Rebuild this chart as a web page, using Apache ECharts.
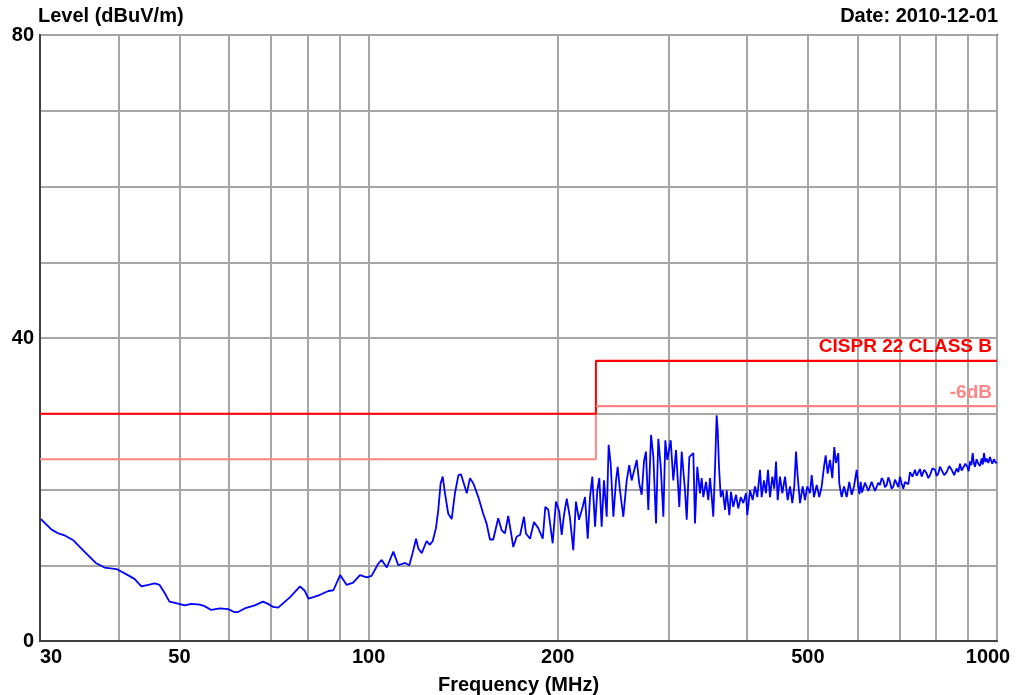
<!DOCTYPE html>
<html>
<head>
<meta charset="utf-8">
<script src="https://cdn.jsdelivr.net/npm/echarts@6/dist/echarts.min.js"></script>
<style>
  html, body { margin: 0; padding: 0; background: #ffffff; }
  #chart { width: 1017px; height: 695px; }
</style>
</head>
<body>
<div id="chart"></div>
<script>
// 测量数据 (MHz, dBuV/m)
const freqs = [
  30.1, 31.3, 32.1, 32.9, 33.9, 35.3, 36.8, 38.0, 39.7, 41.4, 42.4, 43.5, 44.6, 45.7, 46.5, 47.4, 48.2, 49.4,
  51.0, 52.2, 53.9, 54.8, 56.2, 58.0, 59.8, 61.2, 61.9, 63.5, 65.9, 67.9, 69.2, 70.5, 71.8, 75.0, 77.8, 79.2,
  80.2, 81.7, 83.7, 86.3, 87.9, 90.1, 92.3, 94.5, 96.9, 99.3, 101.1, 103.6, 104.9, 106.9, 109.5, 111.5, 114.3,
  116.1, 117.5, 119.0, 120.0, 121.5, 123.7, 125.2, 126.5, 128.0, 129.1, 130.2, 131.2, 132.3, 133.9, 135.6,
  137.2, 139.0, 140.3, 143.3, 145.0, 146.8, 149.5, 152.2, 154.1, 156.0, 157.9, 160.8, 162.9, 164.8, 166.8,
  168.9, 169.9, 172.1, 174.2, 176.7, 178.0, 180.7, 183.3, 186.2, 189.3, 191.1, 193.2, 196.3, 198.7, 201.1,
  202.9, 204.6, 206.7, 209.2, 211.7, 213.8, 216.2, 219.1, 221.0, 223.2, 225.1, 227.0, 229.3, 231.2, 232.9,
  234.9, 236.9, 239.3, 241.0, 242.8, 245.2, 247.6, 249.1, 251.2, 254.3, 257.5, 259.9, 262.2, 264.8, 267.1,
  269.6, 272.0, 274.3, 276.3, 278.7, 281.5, 283.9, 286.7, 289.1, 291.7, 294.5, 296.6, 298.8, 302.5, 305.4,
  308.5, 312.2, 315.0, 318.8, 320.8, 323.9, 328.7, 330.7, 333.5, 336.8, 338.9, 340.9, 344.3, 347.2, 349.4,
  351.6, 353.6, 355.8, 358.0, 359.4, 361.1, 363.4, 366.0, 369.1, 371.4, 375.0, 377.3, 380.5, 384.3, 387.5,
  391.0, 394.7, 398.6, 400.5, 404.5, 408.5, 412.0, 415.5, 419.6, 422.2, 425.8, 428.9, 432.1, 435.3, 439.0,
  442.2, 445.0, 447.7, 451.5, 455.4, 459.9, 464.4, 468.4, 472.4, 475.8, 478.8, 481.8, 485.9, 490.7, 494.8,
  499.0, 504.0, 507.1, 511.4, 516.5, 521.4, 526.0, 530.5, 533.8, 537.7, 542.3, 546.9, 550.9, 554.3, 559.0,
  561.1, 566.0, 570.9, 576.5, 582.0, 587.2, 592.2, 598.0, 601.5, 604.2, 606.9, 609.8, 612.7, 616.5, 620.3,
  624.1, 627.9, 631.7, 635.6, 639.5, 643.5, 647.4, 651.3, 655.3, 659.3, 663.4, 667.5, 671.5, 675.6, 679.7,
  683.9, 688.1, 692.4, 696.6, 700.9, 705.1, 709.4, 713.8, 718.2, 722.6, 727.0, 733.7, 740.5, 744.9, 749.4,
  754.1, 758.8, 765.8, 772.8, 777.5, 782.3, 789.5, 796.8, 801.6, 806.4, 811.4, 816.5, 824.0, 831.6, 839.3,
  847.0, 854.8, 862.6, 867.9, 873.2, 878.5, 883.8, 890.3, 896.9, 901.3, 905.8, 910.2, 914.7, 918.6, 922.5,
  928.1, 933.7, 939.5, 945.4, 949.4, 953.5, 958.2, 962.9, 968.7, 974.6, 978.7, 982.9, 989.0, 995.2, 1000
]
const levels = [
  16.1, 14.7, 14.2, 13.9, 13.3, 11.8, 10.3, 9.7, 9.5, 8.7, 8.2, 7.2, 7.4, 7.6, 7.4, 6.3, 5.2, 5.0,
  4.7, 4.9, 4.8, 4.6, 4.1, 4.3, 4.2, 3.8, 3.8, 4.3, 4.7, 5.2, 4.9, 4.5, 4.4, 5.8, 7.2, 6.6,
  5.6, 5.8, 6.1, 6.6, 6.7, 8.7, 7.4, 7.7, 8.7, 8.4, 8.6, 10.2, 10.7, 9.7, 11.8, 10.0, 10.3,
  10.0, 11.6, 13.5, 12.2, 11.6, 13.2, 12.7, 13.2, 14.9, 17.3, 20.8, 21.7, 19.5, 16.8, 16.1,
  19.5, 21.9, 22.0, 19.5, 21.5, 20.8, 19.0, 16.8, 15.5, 13.4, 13.4, 16.2, 14.6, 14.2, 16.5,
  13.8, 12.4, 13.8, 14.0, 16.4, 14.2, 13.5, 15.7, 14.9, 13.5, 17.7, 17.3, 12.9, 18.4, 17.1,
  14.0, 16.6, 18.8, 16.2, 12.0, 18.4, 16.0, 17.7, 19.0, 13.5, 19.0, 21.7, 15.1, 19.9, 21.5,
  15.1, 21.2, 16.4, 25.9, 23.4, 16.4, 21.2, 23.0, 19.9, 16.4, 21.2, 23.2, 21.2, 22.6, 23.9,
  20.8, 19.3, 23.7, 25.0, 17.3, 27.2, 24.3, 15.5, 26.7, 23.0, 16.4, 26.5, 23.9, 26.5, 21.2,
  25.2, 17.7, 25.0, 19.9, 16.0, 24.3, 24.8, 15.5, 23.0, 19.5, 21.5, 19.0, 21.0, 18.6, 21.5,
  19.0, 16.4, 22.6, 29.8, 27.8, 23.0, 19.0, 19.9, 17.3, 19.9, 16.6, 19.7, 17.7, 19.3, 17.5,
  19.0, 18.2, 19.5, 16.6, 19.9, 18.6, 20.4, 19.0, 22.6, 19.0, 21.2, 19.5, 22.6, 19.0, 21.7,
  20.1, 23.7, 18.6, 21.7, 19.5, 21.7, 18.6, 20.4, 18.2, 20.4, 25.0, 21.7, 18.2, 20.4, 18.6,
  20.4, 19.5, 21.9, 19.0, 20.6, 19.0, 20.4, 23.0, 24.5, 22.1, 23.9, 21.5, 25.6, 23.5, 24.8,
  20.8, 19.0, 20.4, 19.0, 21.0, 19.3, 20.4, 22.6, 20.4, 19.4, 21.0, 19.6, 19.7, 20.9, 20.8,
  19.8, 19.9, 21.0, 20.8, 19.8, 19.9, 20.9, 20.6, 21.5, 21.2, 20.3, 20.6, 21.6, 21.0, 20.1,
  20.4, 21.3, 20.8, 20.3, 21.7, 20.8, 20.1, 21.0, 21.2, 20.7, 22.3, 21.7, 22.6, 21.8, 21.9,
  22.7, 21.7, 22.6, 22.1, 21.5, 21.9, 22.8, 22.6, 21.8, 22.1, 23.0, 22.8, 21.9, 22.3, 23.1,
  22.6, 21.9, 22.8, 22.3, 23.4, 22.5, 22.6, 23.4, 23.0, 22.4, 23.7, 23.2, 24.8, 23.5, 23.0,
  24.0, 23.4, 23.1, 24.1, 23.3, 24.8, 23.6, 24.1, 23.5, 24.3, 23.8, 23.4, 24.0, 23.5, 23.6
]

// 限值线 CISPR 22 Class B 及 -6dB
const limitFreqs = [30, 230, 230, 1000]
const limitLevels = [30, 30, 37, 37]
const marginLevels = [24, 24, 31, 31]

// 刻度
const gridFreqs = [30, 40, 50, 60, 70, 80, 90, 100, 200, 300, 400, 500, 600, 700, 800, 900, 1000]
const labelFreqs = [30, 50, 100, 200, 500, 1000]
const levelLabels = [0, 40, 80]

const lg = (f) => Math.log10(f)
const toPts = (xs, ys) => xs.map((f, i) => [lg(f), ys[i]])

const myChart = echarts.init(document.getElementById('chart'))

const font = { fontFamily: 'Liberation Sans', fontWeight: 'bold', fontSize: 20, color: '#000' }

const options = {
  animation: false,
  backgroundColor: '#ffffff',
  title: [
    { text: 'Level (dBuV/m)', left: 38, top: 6, padding: 0, textStyle: font },
    { text: 'Date: 2010-12-01', right: 19, top: 6, padding: 0, textStyle: font }
  ],
  grid: {
    left: 40,
    right: 20,
    top: 35,
    bottom: 54,
    outerBoundsMode: 'none',
    containLabel: false,
    show: true,
    borderColor: '#404040',
    borderWidth: 2,
    backgroundColor: '#ffffff'
  },
  xAxis: {
    type: 'value',
    min: lg(30),
    max: 3,
    name: 'Frequency (MHz)',
    nameLocation: 'middle',
    nameGap: 34,
    nameTextStyle: font,
    axisLine: { show: true, lineStyle: { color: '#404040', width: 2 } },
    axisTick: { show: false, customValues: gridFreqs.map(lg) },
    axisLabel: {
      customValues: labelFreqs.map(lg),
      formatter: (v) => {
        const f = Math.round(Math.pow(10, v))
        return f === 1000 ? '{last|' + f + '}' : String(f) // 最后一个标签左移，避免被裁切
      },
      rich: {
        last: { ...font, padding: [0, 18, 0, 0] }
      },
      margin: 6,
      alignMinLabel: 'left',
      ...font
    },
    splitLine: { show: true, lineStyle: { color: '#a6a6a6', width: 2 } }
  },
  yAxis: {
    type: 'value',
    min: 0,
    max: 80,
    interval: 10,
    axisLine: { show: true, lineStyle: { color: '#404040', width: 2 } },
    axisTick: { show: false },
    axisLabel: {
      formatter: (v) => (levelLabels.indexOf(v) > -1 ? String(v) : ''),
      margin: 6,
      ...font
    },
    splitLine: { show: true, lineStyle: { color: '#a6a6a6', width: 2 } }
  },
  series: [
    {
      name: '-6dB',
      type: 'line',
      data: toPts(limitFreqs, marginLevels),
      symbol: 'none',
      lineStyle: { color: '#ff8585', width: 2 },
      markLine: {
        silent: true,
        symbol: 'none',
        lineStyle: { color: '#ff8585', width: 2, type: 'solid' },
        label: {
          position: 'insideEndTop',
          formatter: '-6dB',
          distance: [5, 4],
          ...font,
          fontSize: 19,
          color: '#ff8585'
        },
        data: [[{ coord: [lg(230), 31] }, { coord: [3, 31] }]]
      }
    },
    {
      name: 'CISPR 22 CLASS B',
      type: 'line',
      data: toPts(limitFreqs, limitLevels),
      symbol: 'none',
      lineStyle: { color: '#ff0000', width: 2 },
      markLine: {
        silent: true,
        symbol: 'none',
        lineStyle: { color: '#ff0000', width: 2, type: 'solid' },
        label: {
          position: 'insideEndTop',
          formatter: 'CISPR 22 CLASS B',
          distance: [5, 4],
          ...font,
          fontSize: 19,
          color: '#ff0000'
        },
        data: [[{ coord: [lg(230), 37] }, { coord: [3, 37] }]]
      }
    },
    {
      name: 'Level',
      type: 'line',
      data: toPts(freqs, levels),
      symbol: 'none',
      lineStyle: { color: '#0000ff', width: 1.8 },
      z: 5
    }
  ]
}
myChart.setOption(options)
</script>
</body>
</html>
